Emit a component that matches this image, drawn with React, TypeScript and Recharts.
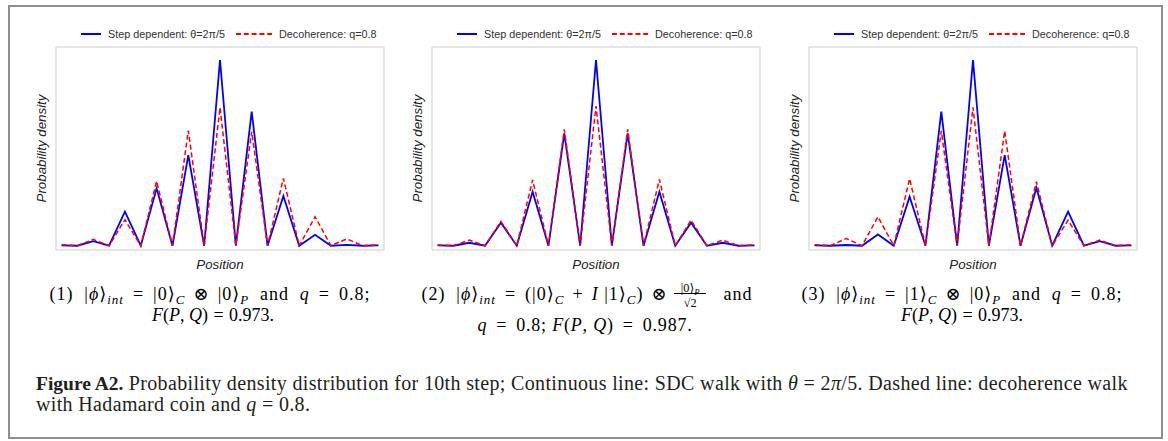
import React from 'react';
import { LineChart, Line, XAxis, YAxis, Legend, Label } from 'recharts';

// positions of the walker after 10 steps
const positions = [-10, -9, -8, -7, -6, -5, -4, -3, -2, -1, 0, 1, 2, 3, 4, 5, 6, 7, 8, 9, 10];

// probability density (relative units, no y ticks in the figure)
const sdcPanel1 = [0.002, 0, 0.025, 0, 0.183, 0, 0.309, 0, 0.488, 0, 1.0, 0, 0.722, 0, 0.268, 0, 0.059, 0, 0.005, 0, 0.002];
const decoPanel1 = [0.005, 0, 0.034, 0, 0.14, 0, 0.348, 0, 0.62, 0, 0.744, 0, 0.615, 0, 0.363, 0, 0.156, 0, 0.037, 0, 0.005];

const sdcPanel2 = [0.002, 0, 0.016, 0, 0.124, 0, 0.291, 0, 0.605, 0, 1.0, 0, 0.605, 0, 0.291, 0, 0.124, 0, 0.016, 0, 0.002];
const decoPanel2 = [0.004, 0, 0.03, 0, 0.131, 0, 0.354, 0, 0.627, 0, 0.752, 0, 0.627, 0, 0.357, 0, 0.138, 0, 0.03, 0, 0.004];

const sdcPanel3 = [0.002, 0, 0.004, 0, 0.061, 0, 0.264, 0, 0.722, 0, 1.0, 0, 0.488, 0, 0.312, 0, 0.183, 0, 0.025, 0, 0.002];
const decoPanel3 = [0.005, 0, 0.039, 0, 0.156, 0, 0.361, 0, 0.618, 0, 0.745, 0, 0.618, 0, 0.345, 0, 0.138, 0, 0.03, 0, 0.005];

const seriesNames = ['Step dependent: θ=2π/5', 'Decoherence: q=0.8'];
const xTitle = 'Position';
const yTitle = 'Probability density';

const BLUE = '#0000ff';
const RED = '#ff0000';
const FRAME = '#cccccc';
const SANS = '"Liberation Sans", Arial, sans-serif';
const SERIF = '"Liberation Serif", "DejaVu Serif", serif';

// chart box geometry (inside each chart's own svg); axes take 1px each
const CH_W = 400;
const CH_H = 280;
const PLOT_LEFT = 56;
const M = { top: 46, left: 55, right: 15, bottom: 29 };

function buildRows(sdc: number[], deco: number[]) {
  return positions.map((x, i) => ({ x, sdc: sdc[i], deco: deco[i] }));
}

const legendSlots: Record<string, { lineX: number; len: number; textX: number }> = {
  sdc: { lineX: 0, len: 20, textX: 27 },
  deco: { lineX: 155, len: 36, textX: 198 },
};

function LegendContent(props: any) {
  const items = props.payload || [];
  return (
    <svg width={320} height={16} style={{ display: 'block', overflow: 'visible' }}>
      {items.map((it: any) => {
        const slot = legendSlots[it.dataKey] || legendSlots.sdc;
        const dash = it.payload && it.payload.strokeDasharray;
        return (
          <g key={it.dataKey}>
            <line
              x1={slot.lineX}
              x2={slot.lineX + slot.len}
              y1={8}
              y2={8}
              stroke={it.color}
              strokeWidth={2}
              strokeDasharray={dash}
            />
            <text x={slot.textX} y={11.8} fontSize={10.8} fontFamily={SANS} fill="#333">
              {it.value}
            </text>
          </g>
        );
      })}
    </svg>
  );
}

function XTitle(props: any) {
  const vb = props.viewBox || {};
  return (
    <text
      x={vb.x + vb.width / 2}
      y={vb.y + 18.8}
      textAnchor="middle"
      fontFamily={SANS}
      fontStyle="italic"
      fontSize={13.3}
      fill="#222"
    >
      {xTitle}
    </text>
  );
}

function YTitle(props: any) {
  const vb = props.viewBox || {};
  const x = vb.x + vb.width - 10.5;
  const y = vb.y + vb.height / 2;
  return (
    <text
      x={x}
      y={y}
      transform={`rotate(-90 ${x} ${y})`}
      textAnchor="middle"
      fontFamily={SANS}
      fontStyle="italic"
      fontSize={13.3}
      fill="#222"
    >
      {yTitle}
    </text>
  );
}

function Panel({ left, sdc, deco }: { left: number; sdc: number[]; deco: number[] }) {
  const rows = buildRows(sdc, deco);
  const xDomain = [-10.35, 10.35];
  const yDomain = [-0.023, 1.07];
  const axisCommon = { tick: false, tickLine: false, axisLine: { stroke: FRAME } } as const;
  return (
    <div style={{ position: 'absolute', left: left - PLOT_LEFT, top: 0 }}>
      <LineChart width={CH_W} height={CH_H} data={rows} margin={M}>
        <XAxis dataKey="x" type="number" domain={xDomain} allowDataOverflow height={1} {...axisCommon}>
          <Label content={XTitle} />
        </XAxis>
        <XAxis
          xAxisId="top"
          orientation="top"
          dataKey="x"
          type="number"
          domain={xDomain}
          allowDataOverflow
          height={1}
          {...axisCommon}
        />
        <YAxis type="number" domain={yDomain} allowDataOverflow width={1} {...axisCommon}>
          <Label content={YTitle} />
        </YAxis>
        <YAxis
          yAxisId="right"
          orientation="right"
          type="number"
          domain={yDomain}
          allowDataOverflow
          width={1}
          {...axisCommon}
        />
        <Legend
          layout="vertical"
          align="center"
          verticalAlign="middle"
          itemSorter={null as any}
          content={LegendContent}
          wrapperStyle={{ left: PLOT_LEFT + 25, top: 26, width: 320, height: 16 }}
        />
        <Line
          type="linear"
          dataKey="sdc"
          name={seriesNames[0]}
          stroke={BLUE}
          strokeWidth={1.8}
          dot={false}
          activeDot={false}
          legendType="plainline"
          isAnimationActive={false}
        />
        <Line
          type="linear"
          dataKey="deco"
          name={seriesNames[1]}
          stroke={RED}
          strokeWidth={1.5}
          strokeDasharray="5 2.8"
          dot={false}
          activeDot={false}
          legendType="plainline"
          isAnimationActive={false}
        />
      </LineChart>
    </div>
  );
}

const CAP_SIZE = 18;

function Sub({ children }: { children: React.ReactNode }) {
  return (
    <span style={{ fontSize: '0.72em', position: 'relative', top: '0.3em', fontStyle: 'italic' }}>{children}</span>
  );
}

function I({ children }: { children: React.ReactNode }) {
  return <span style={{ fontStyle: 'italic' }}>{children}</span>;
}

// a math space of given em width
function S({ w }: { w: number }) {
  return <span style={{ display: 'inline-block', width: `${w}em` }} />;
}

function CapLine({
  cx,
  baseline,
  spacing = 0,
  children,
}: {
  cx: number;
  baseline: number;
  spacing?: number;
  children: React.ReactNode;
}) {
  const f = CAP_SIZE;
  const lh = f * 1.107;
  return (
    <div
      style={{
        position: 'absolute',
        left: cx - 300,
        width: 600,
        top: baseline - 0.891 * f,
        height: lh,
        lineHeight: `${lh}px`,
        textAlign: 'center',
        whiteSpace: 'nowrap',
        fontFamily: SERIF,
        fontSize: f,
        letterSpacing: spacing,
        color: '#000',
      }}
    >
      {children}
    </div>
  );
}

// |0>_P over sqrt(2), stacked around the math axis
function Frac() {
  const part: React.CSSProperties = {
    position: 'absolute',
    left: 0,
    right: 0,
    textAlign: 'center',
    fontSize: '0.68em',
    lineHeight: '1em',
    letterSpacing: 0,
  };
  return (
    <span style={{ display: 'inline-block', position: 'relative', width: '2em', height: 0, margin: '0 0.25em' }}>
      <span style={{ ...part, top: '-1.45em' }}>
        |0⟩<Sub>P</Sub>
      </span>
      <span style={{ position: 'absolute', left: '0.1em', right: '0.1em', top: '-0.36em', height: 1, background: '#000' }} />
      <span style={{ ...part, top: '-0.28em' }}>√2</span>
    </span>
  );
}

const REL = 0.5; // space around relations
const BIN = 0.45; // space around binary operators
const TXT = 0.6; // space around text words
const REL2 = 0.3; // relation space in the short second lines

export default function App() {
  return (
    <div style={{ position: 'absolute', left: 0, top: 0, width: 1168, height: 441, background: '#fff', overflow: 'hidden' }}>
      <div
        style={{
          position: 'absolute',
          left: 8,
          top: 4.5,
          width: 1151,
          height: 430.5,
          border: '2px solid #8f8f8f',
        }}
      />
      <Panel left={56} sdc={sdcPanel1} deco={decoPanel1} />
      <Panel left={432} sdc={sdcPanel2} deco={decoPanel2} />
      <Panel left={809} sdc={sdcPanel3} deco={decoPanel3} />

      <CapLine cx={210} baseline={301} spacing={1}>
        (1)<S w={TXT} />|<I>ϕ</I>⟩<Sub>int</Sub><S w={REL} />=<S w={REL} />|0⟩<Sub>C</Sub><S w={BIN} />⊗<S w={BIN} />|0⟩<Sub>P</Sub>
        <S w={TXT} />and<S w={TXT} /><I>q</I><S w={REL} />=<S w={REL} />0.8;
      </CapLine>
      <CapLine cx={213} baseline={322}>
        <I>F</I>(<I>P</I>, <I>Q</I>)<S w={REL2} />=<S w={REL2} />0.973.
      </CapLine>

      <CapLine cx={587} baseline={301} spacing={1}>
        (2)<S w={TXT} />|<I>ϕ</I>⟩<Sub>int</Sub><S w={REL} />=<S w={REL} />(|0⟩<Sub>C</Sub><S w={BIN} />+<S w={BIN} />
        <I>I</I> |1⟩<Sub>C</Sub>)<S w={BIN} />⊗<Frac /><S w={TXT} />and
      </CapLine>
      <CapLine cx={585} baseline={332} spacing={0.8}>
        <I>q</I><S w={REL} />=<S w={REL} />0.8; <I>F</I>(<I>P</I>, <I>Q</I>)<S w={REL} />=<S w={REL} />0.987.
      </CapLine>

      <CapLine cx={962} baseline={301} spacing={1}>
        (3)<S w={TXT} />|<I>ϕ</I>⟩<Sub>int</Sub><S w={REL} />=<S w={REL} />|1⟩<Sub>C</Sub><S w={BIN} />⊗<S w={BIN} />|0⟩<Sub>P</Sub>
        <S w={TXT} />and<S w={TXT} /><I>q</I><S w={REL} />=<S w={REL} />0.8;
      </CapLine>
      <CapLine cx={962} baseline={322}>
        <I>F</I>(<I>P</I>, <I>Q</I>)<S w={REL2} />=<S w={REL2} />0.973.
      </CapLine>

      <div
        style={{
          position: 'absolute',
          left: 36,
          top: 390 - 0.891 * 20,
          width: 1120,
          fontFamily: SERIF,
          fontSize: 20,
          letterSpacing: 0.35,
          color: '#231f20',
          whiteSpace: 'nowrap',
        }}
      >
        <div style={{ height: 21, lineHeight: `${20 * 1.107}px` }}>
          <b style={{ fontSize: 19.5, letterSpacing: 0 }}>Figure A2.</b> Probability density distribution for 10th step; Continuous line: SDC walk
          with <I>θ</I> = 2<I>π</I>/5. Dashed line: decoherence walk
        </div>
        <div style={{ height: 21, lineHeight: `${20 * 1.107}px` }}>
          with Hadamard coin and <I>q</I> = 0.8.
        </div>
      </div>
    </div>
  );
}
